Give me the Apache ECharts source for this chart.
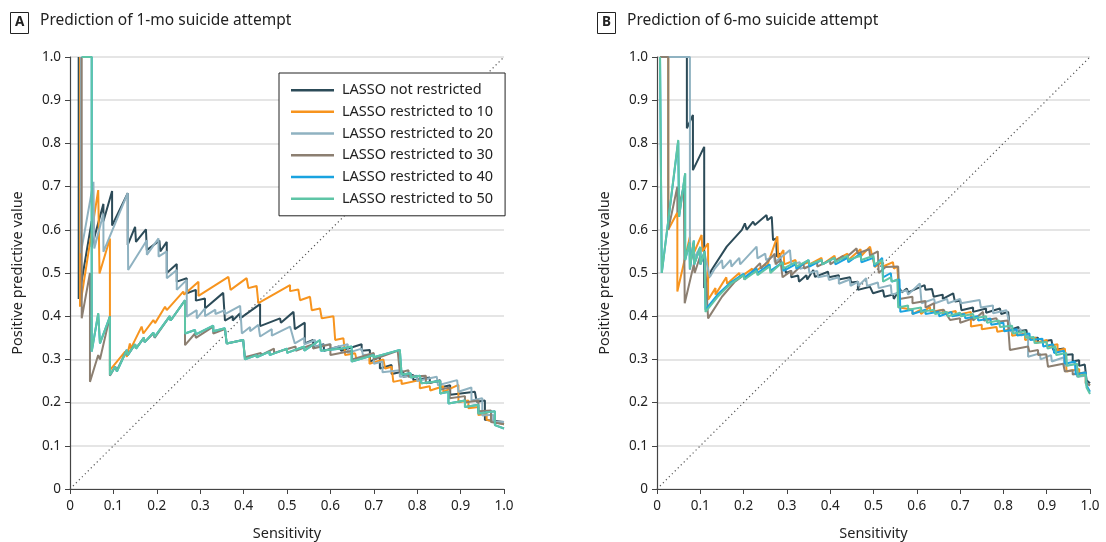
<!DOCTYPE html>
<html>
<head>
<meta charset="utf-8">
<script src="https://cdn.jsdelivr.net/npm/echarts@6/dist/echarts.min.js"></script>
<style>
html,body{margin:0;padding:0;background:#fff;}
#c{width:1106px;height:542px;}
</style>
</head>
<body>
<div id="c"></div>
<script>
// ---------- Data (sensitivity, PPV) ----------
const seriesNames = ['LASSO not restricted','LASSO restricted to 10','LASSO restricted to 20','LASSO restricted to 30','LASSO restricted to 40','LASSO restricted to 50'];
const xTicks = [0,0.1,0.2,0.3,0.4,0.5,0.6,0.7,0.8,0.9,1.0];
const yTicks = [0,0.1,0.2,0.3,0.4,0.5,0.6,0.7,0.8,0.9,1.0];
const panelTitles = ['Prediction of 1-mo suicide attempt','Prediction of 6-mo suicide attempt'];
const panelLetters = ['A','B'];
const diagonal = [[0,0],[1,1]];

// Panel A: 1-month
const a_notRestricted = [[0.02,1.0],[0.02,0.44],[0.05,0.62],[0.05,0.56],[0.077,0.66],[0.077,0.62],[0.097,0.69],[0.097,0.61],[0.133,0.685],[0.133,0.565],[0.150,0.607],[0.152,0.572],[0.175,0.601],[0.177,0.553],[0.206,0.575],[0.208,0.55],[0.223,0.572],[0.223,0.50],[0.246,0.521],[0.246,0.480],[0.269,0.488],[0.269,0.453],[0.290,0.461],[0.290,0.436],[0.311,0.441],[0.311,0.418],[0.353,0.454],[0.357,0.39],[0.375,0.40],[0.375,0.39],[0.392,0.407],[0.392,0.395],[0.438,0.428],[0.438,0.377],[0.484,0.395],[0.486,0.385],[0.515,0.410],[0.518,0.37],[0.541,0.385],[0.541,0.337],[0.56,0.345],[0.56,0.328],[0.585,0.335],[0.585,0.32],[0.62,0.33],[0.625,0.32],[0.672,0.335],[0.672,0.32],[0.691,0.322],[0.691,0.295],[0.714,0.306],[0.714,0.279],[0.741,0.287],[0.741,0.266],[0.768,0.272],[0.768,0.260],[0.791,0.264],[0.791,0.252],[0.829,0.258],[0.829,0.245],[0.853,0.252],[0.853,0.235],[0.876,0.24],[0.876,0.218],[0.933,0.225],[0.937,0.202],[0.956,0.205],[0.956,0.16],[1.0,0.155]];
const a_restricted10 = [[0.023,1.0],[0.023,0.422],[0.065,0.692],[0.068,0.499],[0.092,0.580],[0.092,0.275],[0.127,0.318],[0.131,0.306],[0.138,0.337],[0.140,0.325],[0.165,0.376],[0.169,0.360],[0.192,0.391],[0.196,0.384],[0.219,0.422],[0.223,0.414],[0.261,0.457],[0.263,0.45],[0.296,0.48],[0.296,0.447],[0.365,0.491],[0.370,0.461],[0.407,0.488],[0.411,0.465],[0.43,0.47],[0.434,0.430],[0.507,0.472],[0.507,0.458],[0.526,0.462],[0.530,0.437],[0.553,0.445],[0.557,0.414],[0.576,0.418],[0.580,0.395],[0.607,0.40],[0.611,0.345],[0.630,0.349],[0.634,0.31],[0.657,0.314],[0.66,0.30],[0.69,0.31],[0.69,0.29],[0.722,0.30],[0.726,0.279],[0.741,0.283],[0.745,0.248],[0.764,0.252],[0.764,0.243],[0.806,0.252],[0.806,0.233],[0.829,0.238],[0.83,0.228],[0.86,0.238],[0.86,0.225],[0.895,0.241],[0.895,0.201],[0.918,0.205],[0.918,0.187],[0.941,0.19],[0.941,0.171],[0.96,0.175],[0.96,0.16],[1.0,0.15]];
const a_restricted20 = [[0.025,1.0],[0.025,0.546],[0.054,0.711],[0.056,0.557],[0.077,0.638],[0.077,0.549],[0.133,0.685],[0.134,0.507],[0.177,0.576],[0.177,0.542],[0.204,0.580],[0.204,0.538],[0.223,0.55],[0.223,0.488],[0.246,0.507],[0.246,0.461],[0.269,0.484],[0.269,0.399],[0.292,0.414],[0.292,0.395],[0.311,0.418],[0.311,0.40],[0.335,0.415],[0.335,0.405],[0.357,0.414],[0.357,0.405],[0.392,0.424],[0.396,0.360],[0.415,0.375],[0.415,0.365],[0.434,0.380],[0.438,0.353],[0.465,0.37],[0.465,0.355],[0.507,0.376],[0.518,0.337],[0.54,0.35],[0.54,0.335],[0.565,0.345],[0.565,0.33],[0.60,0.335],[0.60,0.325],[0.64,0.335],[0.64,0.315],[0.672,0.325],[0.675,0.31],[0.70,0.312],[0.70,0.29],[0.72,0.295],[0.72,0.27],[0.76,0.275],[0.76,0.26],[0.80,0.262],[0.80,0.25],[0.845,0.26],[0.848,0.24],[0.892,0.252],[0.895,0.225],[0.925,0.235],[0.925,0.205],[0.95,0.21],[0.95,0.17],[0.975,0.172],[0.975,0.155],[1.0,0.155]];
const a_restricted30 = [[0.027,1.0],[0.027,0.395],[0.046,0.5],[0.046,0.248],[0.065,0.31],[0.069,0.30],[0.092,0.40],[0.092,0.262],[0.104,0.283],[0.108,0.275],[0.131,0.322],[0.133,0.31],[0.15,0.335],[0.152,0.325],[0.17,0.35],[0.172,0.34],[0.192,0.36],[0.195,0.35],[0.23,0.40],[0.232,0.39],[0.265,0.437],[0.265,0.333],[0.288,0.36],[0.29,0.35],[0.33,0.376],[0.33,0.36],[0.357,0.37],[0.361,0.337],[0.399,0.345],[0.403,0.305],[0.44,0.315],[0.44,0.31],[0.47,0.325],[0.47,0.315],[0.52,0.33],[0.52,0.32],[0.56,0.335],[0.56,0.325],[0.60,0.335],[0.60,0.31],[0.65,0.32],[0.65,0.30],[0.70,0.315],[0.70,0.30],[0.755,0.32],[0.76,0.27],[0.78,0.275],[0.78,0.26],[0.82,0.262],[0.82,0.245],[0.853,0.25],[0.853,0.23],[0.875,0.235],[0.875,0.21],[0.91,0.215],[0.91,0.2],[0.941,0.205],[0.941,0.18],[0.97,0.182],[0.97,0.155],[1.0,0.15]];
const a_restricted40 = [[0.027,1.0],[0.050,1.0],[0.050,0.318],[0.065,0.405],[0.069,0.337],[0.092,0.399],[0.092,0.264],[0.104,0.283],[0.108,0.272],[0.131,0.322],[0.133,0.31],[0.15,0.335],[0.152,0.325],[0.17,0.35],[0.172,0.34],[0.192,0.362],[0.195,0.352],[0.23,0.40],[0.232,0.39],[0.265,0.437],[0.265,0.36],[0.288,0.368],[0.29,0.358],[0.33,0.378],[0.33,0.365],[0.357,0.372],[0.361,0.337],[0.399,0.345],[0.403,0.30],[0.43,0.31],[0.43,0.305],[0.46,0.318],[0.46,0.31],[0.5,0.325],[0.5,0.315],[0.54,0.33],[0.54,0.32],[0.576,0.345],[0.578,0.32],[0.626,0.325],[0.649,0.33],[0.649,0.295],[0.70,0.31],[0.70,0.305],[0.760,0.322],[0.764,0.265],[0.785,0.268],[0.785,0.258],[0.806,0.262],[0.81,0.245],[0.853,0.25],[0.853,0.221],[0.872,0.225],[0.872,0.198],[0.91,0.205],[0.91,0.19],[0.941,0.195],[0.941,0.175],[0.979,0.18],[0.979,0.148],[1.0,0.14]];
const a_restricted50 = [[0.027,1.0],[0.050,1.0],[0.050,0.318],[0.065,0.407],[0.069,0.337],[0.092,0.399],[0.092,0.264],[0.104,0.283],[0.108,0.272],[0.131,0.322],[0.133,0.31],[0.15,0.335],[0.152,0.325],[0.17,0.35],[0.172,0.34],[0.192,0.362],[0.195,0.352],[0.23,0.40],[0.232,0.39],[0.265,0.437],[0.265,0.36],[0.288,0.368],[0.29,0.358],[0.33,0.378],[0.33,0.365],[0.357,0.372],[0.361,0.337],[0.399,0.345],[0.403,0.30],[0.43,0.31],[0.43,0.305],[0.46,0.318],[0.46,0.31],[0.5,0.325],[0.5,0.315],[0.54,0.33],[0.54,0.32],[0.576,0.345],[0.578,0.32],[0.626,0.325],[0.649,0.33],[0.649,0.295],[0.70,0.31],[0.70,0.305],[0.760,0.322],[0.764,0.265],[0.785,0.268],[0.785,0.258],[0.806,0.262],[0.81,0.245],[0.853,0.25],[0.853,0.221],[0.872,0.225],[0.872,0.198],[0.91,0.205],[0.91,0.19],[0.941,0.195],[0.941,0.175],[0.979,0.18],[0.979,0.148],[1.0,0.14]];

// Panel B: 6-month
const b_notRestricted = [[0.02,1.0],[0.069,1.0],[0.069,0.835],[0.083,0.866],[0.083,0.738],[0.109,0.792],[0.109,0.465],[0.126,0.507],[0.161,0.561],[0.196,0.600],[0.203,0.615],[0.207,0.600],[0.222,0.619],[0.226,0.611],[0.253,0.634],[0.255,0.622],[0.265,0.63],[0.268,0.576],[0.275,0.58],[0.277,0.538],[0.284,0.545],[0.286,0.52],[0.296,0.51],[0.298,0.50],[0.31,0.505],[0.31,0.49],[0.326,0.494],[0.328,0.48],[0.345,0.495],[0.347,0.485],[0.361,0.507],[0.365,0.491],[0.395,0.503],[0.397,0.49],[0.42,0.495],[0.42,0.485],[0.446,0.49],[0.448,0.478],[0.464,0.48],[0.464,0.461],[0.492,0.468],[0.499,0.453],[0.522,0.46],[0.525,0.445],[0.545,0.45],[0.547,0.44],[0.561,0.464],[0.565,0.455],[0.577,0.464],[0.58,0.455],[0.618,0.472],[0.62,0.461],[0.635,0.463],[0.639,0.445],[0.66,0.45],[0.66,0.44],[0.684,0.453],[0.688,0.434],[0.70,0.436],[0.703,0.414],[0.73,0.42],[0.73,0.41],[0.76,0.418],[0.76,0.408],[0.792,0.418],[0.795,0.405],[0.811,0.41],[0.815,0.368],[0.835,0.375],[0.835,0.365],[0.853,0.368],[0.857,0.349],[0.88,0.35],[0.88,0.34],[0.911,0.345],[0.915,0.322],[0.94,0.325],[0.94,0.31],[0.96,0.312],[0.96,0.295],[0.975,0.298],[0.975,0.285],[0.988,0.288],[0.992,0.252],[1.0,0.245]];
const b_restricted10 = [[0.026,1.0],[0.026,0.60],[0.047,0.64],[0.047,0.457],[0.076,0.584],[0.078,0.53],[0.103,0.588],[0.105,0.55],[0.118,0.569],[0.118,0.438],[0.135,0.465],[0.135,0.45],[0.16,0.49],[0.162,0.475],[0.19,0.50],[0.192,0.49],[0.22,0.51],[0.222,0.50],[0.25,0.52],[0.252,0.51],[0.278,0.585],[0.28,0.535],[0.292,0.553],[0.294,0.52],[0.32,0.53],[0.322,0.515],[0.35,0.525],[0.352,0.52],[0.38,0.535],[0.382,0.52],[0.41,0.54],[0.412,0.53],[0.44,0.545],[0.442,0.53],[0.47,0.555],[0.472,0.54],[0.492,0.561],[0.503,0.514],[0.52,0.525],[0.522,0.515],[0.545,0.525],[0.547,0.51],[0.555,0.515],[0.561,0.42],[0.59,0.415],[0.59,0.405],[0.607,0.414],[0.61,0.405],[0.63,0.422],[0.632,0.41],[0.66,0.415],[0.66,0.405],[0.69,0.412],[0.69,0.402],[0.725,0.41],[0.725,0.376],[0.75,0.38],[0.75,0.37],[0.784,0.375],[0.786,0.364],[0.82,0.37],[0.82,0.355],[0.85,0.36],[0.85,0.345],[0.875,0.35],[0.875,0.338],[0.9,0.345],[0.9,0.33],[0.925,0.335],[0.925,0.32],[0.942,0.325],[0.946,0.272],[0.975,0.278],[0.975,0.262],[0.99,0.265],[0.99,0.245],[1.0,0.24]];
const b_restricted20 = [[0.007,1.0],[0.076,1.0],[0.076,0.507],[0.084,0.57],[0.086,0.535],[0.10,0.56],[0.102,0.53],[0.11,0.545],[0.122,0.491],[0.134,0.511],[0.15,0.53],[0.152,0.51],[0.17,0.53],[0.172,0.515],[0.19,0.535],[0.192,0.52],[0.23,0.561],[0.232,0.534],[0.25,0.545],[0.252,0.53],[0.27,0.54],[0.272,0.525],[0.307,0.553],[0.31,0.52],[0.33,0.525],[0.33,0.51],[0.35,0.515],[0.352,0.50],[0.37,0.505],[0.372,0.49],[0.395,0.495],[0.397,0.484],[0.42,0.49],[0.42,0.475],[0.445,0.485],[0.447,0.47],[0.465,0.48],[0.465,0.47],[0.483,0.488],[0.485,0.47],[0.51,0.478],[0.512,0.465],[0.54,0.472],[0.542,0.45],[0.577,0.46],[0.58,0.45],[0.607,0.476],[0.611,0.43],[0.64,0.44],[0.642,0.43],[0.67,0.44],[0.672,0.43],[0.70,0.44],[0.702,0.43],[0.745,0.4375],[0.748,0.42],[0.776,0.425],[0.776,0.407],[0.807,0.414],[0.818,0.364],[0.84,0.37],[0.84,0.355],[0.857,0.36],[0.857,0.306],[0.884,0.314],[0.886,0.30],[0.91,0.31],[0.912,0.295],[0.94,0.305],[0.94,0.285],[0.97,0.29],[0.97,0.26],[0.99,0.262],[0.99,0.245],[1.0,0.24]];
const b_restricted30 = [[0.007,1.0],[0.026,1.0],[0.026,0.60],[0.047,0.70],[0.047,0.64],[0.062,0.70],[0.064,0.43],[0.085,0.52],[0.087,0.50],[0.10,0.54],[0.10,0.52],[0.11,0.545],[0.118,0.395],[0.15,0.445],[0.18,0.48],[0.2,0.495],[0.202,0.485],[0.238,0.523],[0.24,0.51],[0.272,0.545],[0.274,0.52],[0.285,0.53],[0.29,0.49],[0.31,0.505],[0.31,0.495],[0.338,0.522],[0.34,0.51],[0.37,0.525],[0.37,0.515],[0.40,0.53],[0.40,0.52],[0.43,0.54],[0.43,0.53],[0.461,0.557],[0.463,0.545],[0.49,0.555],[0.492,0.54],[0.51,0.55],[0.512,0.50],[0.528,0.514],[0.557,0.515],[0.56,0.44],[0.59,0.445],[0.59,0.43],[0.62,0.435],[0.62,0.42],[0.64,0.43],[0.64,0.41],[0.662,0.415],[0.677,0.391],[0.70,0.395],[0.70,0.385],[0.73,0.395],[0.73,0.39],[0.753,0.41],[0.755,0.39],[0.784,0.395],[0.786,0.387],[0.81,0.39],[0.815,0.322],[0.857,0.33],[0.86,0.318],[0.88,0.322],[0.88,0.31],[0.899,0.312],[0.903,0.283],[0.938,0.29],[0.942,0.272],[0.96,0.275],[0.96,0.265],[0.99,0.27],[0.992,0.245],[1.0,0.24]];
const b_restricted40 = [[0.007,1.0],[0.011,1.0],[0.011,0.50],[0.049,0.805],[0.051,0.63],[0.065,0.73],[0.065,0.53],[0.075,0.57],[0.076,0.51],[0.085,0.575],[0.086,0.52],[0.10,0.56],[0.10,0.52],[0.11,0.55],[0.112,0.415],[0.14,0.45],[0.17,0.478],[0.2,0.498],[0.202,0.49],[0.23,0.51],[0.232,0.50],[0.26,0.52],[0.262,0.505],[0.29,0.525],[0.292,0.505],[0.32,0.52],[0.322,0.51],[0.35,0.53],[0.352,0.515],[0.38,0.53],[0.382,0.52],[0.41,0.535],[0.412,0.52],[0.44,0.535],[0.442,0.525],[0.47,0.545],[0.472,0.525],[0.50,0.535],[0.502,0.515],[0.52,0.535],[0.522,0.49],[0.54,0.50],[0.542,0.48],[0.56,0.485],[0.562,0.41],[0.59,0.415],[0.59,0.405],[0.62,0.415],[0.62,0.405],[0.65,0.41],[0.652,0.40],[0.68,0.41],[0.682,0.40],[0.71,0.405],[0.712,0.395],[0.74,0.40],[0.742,0.39],[0.77,0.395],[0.772,0.38],[0.80,0.385],[0.802,0.365],[0.83,0.37],[0.832,0.355],[0.86,0.36],[0.862,0.345],[0.89,0.348],[0.892,0.33],[0.915,0.335],[0.917,0.315],[0.94,0.32],[0.942,0.29],[0.965,0.295],[0.967,0.265],[0.99,0.27],[0.992,0.24],[1.0,0.225]];
const b_restricted50 = [[0.007,1.0],[0.011,1.0],[0.011,0.50],[0.049,0.808],[0.051,0.63],[0.065,0.731],[0.065,0.53],[0.075,0.57],[0.076,0.51],[0.085,0.575],[0.086,0.52],[0.10,0.56],[0.10,0.52],[0.11,0.55],[0.112,0.41],[0.14,0.445],[0.17,0.475],[0.2,0.495],[0.202,0.485],[0.23,0.505],[0.232,0.495],[0.26,0.515],[0.262,0.50],[0.29,0.525],[0.292,0.51],[0.32,0.525],[0.322,0.515],[0.35,0.53],[0.352,0.52],[0.38,0.53],[0.382,0.52],[0.41,0.535],[0.412,0.525],[0.44,0.54],[0.442,0.53],[0.47,0.54],[0.472,0.53],[0.50,0.54],[0.502,0.52],[0.52,0.53],[0.522,0.48],[0.54,0.49],[0.542,0.48],[0.555,0.485],[0.557,0.42],[0.58,0.425],[0.58,0.415],[0.61,0.42],[0.61,0.41],[0.64,0.415],[0.642,0.405],[0.67,0.41],[0.672,0.40],[0.70,0.408],[0.702,0.40],[0.73,0.405],[0.732,0.395],[0.76,0.40],[0.762,0.385],[0.79,0.39],[0.792,0.375],[0.82,0.378],[0.822,0.36],[0.85,0.365],[0.852,0.35],[0.87,0.352],[0.872,0.338],[0.9,0.34],[0.902,0.325],[0.92,0.33],[0.922,0.31],[0.945,0.315],[0.947,0.285],[0.97,0.29],[0.972,0.26],[0.99,0.265],[0.992,0.235],[1.0,0.22]];

const panelA = [a_notRestricted,a_restricted10,a_restricted20,a_restricted30,a_restricted40,a_restricted50];
const panelB = [b_notRestricted,b_restricted10,b_restricted20,b_restricted30,b_restricted40,b_restricted50];

// ---------- Styles ----------
const colors = ['#2c4b58','#f7941e','#8fb2c1','#8c7f71','#19a3e0','#5ec5a6'];
const FONT = 'Noto Sans';
const gridPos = [
  {left:70, top:57, width:434, height:432, outerBoundsMode:'none', containLabel:false},
  {left:657, top:57, width:433, height:432, outerBoundsMode:'none', containLabel:false}
];
const fmt = v => (v === 0 ? '0' : v.toFixed(1));

const chart = echarts.init(document.getElementById('c'), null, {renderer:'canvas'});

const xAxes = [], yAxes = [], series = [];
[panelA, panelB].forEach((panel, p) => {
  xAxes.push({
    type:'value', gridIndex:p, min:0, max:1, interval:0.1,
    name:'Sensitivity', nameLocation:'middle', nameGap:37,
    nameTextStyle:{fontFamily:FONT, fontSize:14.5, color:'#222'},
    axisLine:{show:true, onZero:false, lineStyle:{color:'#444', width:1.2}},
    axisTick:{show:true, length:5, lineStyle:{color:'#444'}},
    axisLabel:{fontFamily:FONT, fontSize:13.5, color:'#222', margin:10, formatter:fmt, showMaxLabel:true, showMinLabel:true},
    splitLine:{show:false}
  });
  yAxes.push({
    type:'value', gridIndex:p, min:0, max:1, interval:0.1,
    name:'Positive predictive value', nameLocation:'middle', nameGap:45, nameRotate:90,
    nameTextStyle:{fontFamily:FONT, fontSize:14.5, color:'#222'},
    axisLine:{show:true, onZero:false, lineStyle:{color:'#444', width:1.2}},
    axisTick:{show:true, length:5, lineStyle:{color:'#444'}},
    axisLabel:{fontFamily:FONT, fontSize:13.5, color:'#222', margin:9, formatter:fmt},
    splitLine:{show:true, lineStyle:{color:'#dcdcdc', width:1.5}}
  });
  series.push({
    type:'line', xAxisIndex:p, yAxisIndex:p, data:diagonal, showSymbol:false, silent:true,
    lineStyle:{color:'#555', width:1.2, type:[1.2,3]}, z:1
  });
  panel.forEach((d, i) => {
    series.push({
      name:seriesNames[i], type:'line', xAxisIndex:p, yAxisIndex:p, data:d,
      showSymbol:false, symbol:'none', clip:false, animation:false,
      lineStyle:{color:colors[i], width:2}, itemStyle:{color:colors[i]}, z:2+i
    });
  });
});

const graphics = [];
[0,1].forEach(p => {
  const bx = p === 0 ? 10 : 597;
  graphics.push({type:'rect', left:bx, top:12, shape:{width:18, height:21}, style:{fill:'#fff', stroke:'#222', lineWidth:1}});
  graphics.push({type:'text', left:bx+5, top:15.5, style:{text:panelLetters[p], font:'bold 13.5px "Noto Sans"', fill:'#222'}});
  graphics.push({type:'text', left:bx+30, top:12.5, style:{text:panelTitles[p], font:'15.5px "Noto Sans"', fill:'#222'}});
});

chart.setOption({
  animation:false,
  backgroundColor:'#fff',
  grid:gridPos,
  xAxis:xAxes,
  yAxis:yAxes,
  series:series,
  legend:{
    data:seriesNames, orient:'vertical', left:279, top:73,
    backgroundColor:'#fff', borderColor:'#222', borderWidth:1,
    padding:[9,12,9,12], itemGap:5.4, itemWidth:43, itemHeight:2.5, icon:'rect',
    textStyle:{fontFamily:FONT, fontSize:14.5, color:'#222', lineHeight:16.3, padding:[0,0,0,3]},
    selectedMode:false
  },
  graphic:graphics
});
</script>
</body>
</html>
